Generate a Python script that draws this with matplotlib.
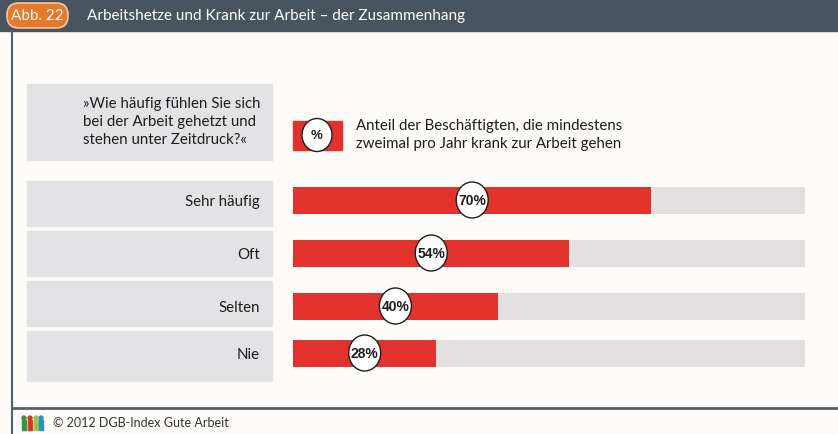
import matplotlib
matplotlib.use("Agg")
import matplotlib.pyplot as plt
from matplotlib.patches import Rectangle, Ellipse, FancyBboxPatch

# Daten: Anteil der Beschäftigten, die mindestens zweimal pro Jahr krank zur Arbeit gehen
kategorien = ["Sehr häufig", "Oft", "Selten", "Nie"]
anteile = [70, 54, 40, 28]
zeilen_y = [200, 253, 306, 353]

titel = "Arbeitshetze und Krank zur Arbeit \u2013 der Zusammenhang"
frage = "»Wie häufig fühlen Sie sich\nbei der Arbeit gehetzt und\nstehen unter Zeitdruck?«"
legende = "Anteil der Beschäftigten, die mindestens\nzweimal pro Jahr krank zur Arbeit gehen"
quelle = "© 2012 DGB-Index Gute Arbeit"

ROT = "#e3312b"
GRAU = "#e3e3e6"
SPUR = "#e2e0e1"
DUNKEL = "#48545f"
ORANGE = "#e8792a"
BG = "#fdfcf9"
TXT = "#1e1e1e"
FONT = ["Lato", "DejaVu Sans"]
ZAHL = ["Liberation Sans Narrow", "Liberation Sans", "DejaVu Sans"]

W, H = 838, 434
fig = plt.figure(figsize=(W / 100, H / 100), dpi=100, facecolor=BG)

# Hintergrund in Pixelkoordinaten
ax = fig.add_axes([0, 0, 1, 1])
ax.set_xlim(0, W)
ax.set_ylim(H, 0)
ax.axis("off")
ax.set_facecolor(BG)

# Kopfzeile
ax.add_patch(Rectangle((0, 0), W, 31, color=DUNKEL, zorder=1))
ax.add_patch(FancyBboxPatch((7, 3), 61, 25, boxstyle="round,pad=0,rounding_size=12",
                            facecolor=ORANGE, edgecolor="#f5c7a0", lw=1.2, zorder=2))
ax.text(37, 16, "Abb. 22", color="white", fontsize=11, family=FONT,
        ha="center", va="center", zorder=3)
ax.text(87, 16, titel, color="white", fontsize=11, family=FONT,
        ha="left", va="center", zorder=3)

# Rahmenlinien
ax.plot([12, 12], [31, H], color="#55606a", lw=1.5, zorder=1)
ax.plot([12, W], [408, 408], color="#55606a", lw=2, zorder=1)

# Frage-Box
ax.add_patch(Rectangle((27, 84), 245, 76, color=GRAU, zorder=1))
ax.text(83, 122, frage, color=TXT, fontsize=10.8, family=FONT,
        ha="left", va="center", linespacing=1.35, zorder=2)

# Legende
ax.add_patch(Rectangle((293, 121), 49, 29, color=ROT, zorder=1))
ax.add_patch(Ellipse((317, 135), 30, 33, facecolor="white", edgecolor=TXT, lw=1, zorder=2))
ax.text(317, 136, "%", color=TXT, fontsize=9.5, family=ZAHL, weight="bold",
        ha="center", va="center", zorder=3)
ax.text(356, 135, legende, color=TXT, fontsize=10.8, family=FONT,
        ha="left", va="center", linespacing=1.35, zorder=2)

# Kategorie-Boxen
for i, (kat, y) in enumerate(zip(kategorien, zeilen_y)):
    top = 181 + i * 50
    ax.add_patch(Rectangle((27, top), 245, 45 if i < 3 else 50, color=GRAU, zorder=1))
    ax.text(260, y + 2, kat, color=TXT, fontsize=10.8, family=FONT,
            ha="right", va="center", zorder=2)

# Quelle
logo = [("#2e9a3c", 24), ("#e3312b", 30), ("#9ac43c", 36), ("#2a8fd0", 41)]
for farbe, lx in logo:
    ax.add_patch(Ellipse((lx, 418), 4, 4, color=farbe, zorder=2))
    ax.add_patch(Rectangle((lx - 2, 420), 4, 10, color=farbe, zorder=2))
ax.text(53, 423, quelle, color="#333333", fontsize=9, family=FONT,
        ha="left", va="center")

# Balken: x-Achse in Prozent
x0, x1 = 293, 805
bx = fig.add_axes([x0 / W, 0, (x1 - x0) / W, 1])
bx.set_xlim(0, 100)
bx.set_ylim(H, 0)
bx.axis("off")
bx.patch.set_alpha(0)

bx.barh(zeilen_y, [100] * len(anteile), height=27, color=SPUR, zorder=1)
bx.barh(zeilen_y, anteile, height=27, color=ROT, zorder=2)

px = 100 / (x1 - x0)
for wert, y in zip(anteile, zeilen_y):
    bx.add_patch(Ellipse((wert / 2, y), 32 * px, 36, facecolor="white",
                         edgecolor=TXT, lw=1, zorder=3))
    bx.text(wert / 2, y + 1, f"{wert}%", color=TXT, fontsize=10, family=ZAHL,
            weight="bold", ha="center", va="center", zorder=4)

fig.savefig("out.png", dpi=100, facecolor=BG)
